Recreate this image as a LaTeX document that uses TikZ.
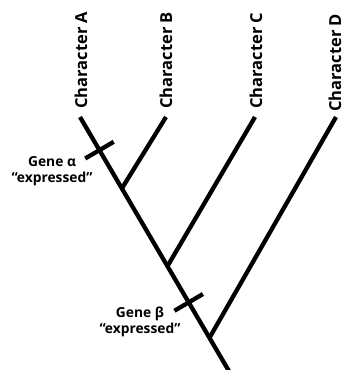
\documentclass[tikz,border=0pt]{standalone}
\usepackage{fontspec}
\setmainfont{Open Sans}
\usetikzlibrary{calc}
\begin{document}
\begin{tikzpicture}[x=1pt,y=-1pt,
  branch/.style={line width=4.3pt},
  charlabel/.style={rotate=90,anchor=west,inner sep=0pt,font=\fontsize{16.5}{20}\selectfont\bfseries},
  genelabel/.style={align=center,inner sep=0pt,font=\fontsize{13.8}{16}\selectfont\bfseries}]
  \useasboundingbox (0,0) rectangle (344,370);
  \begin{scope}
    \clip (0,0) rectangle (344,370);
    % tips of the four lineages and the root
    \coordinate (A) at (80,117);
    \coordinate (B) at (166,117);
    \coordinate (C) at (255,117);
    \coordinate (D) at (336,117);
    \coordinate (R) at (229.5,372);
    % branching points on the main stem
    \coordinate (jB) at ($(A)!0.28!(R)$);
    \coordinate (jC) at ($(A)!0.585!(R)$);
    \coordinate (jD) at ($(A)!0.866!(R)$);
    % positions of the gene marks
    \coordinate (ga) at ($(A)!0.13!(R)$);
    \coordinate (gb) at ($(A)!0.727!(R)$);
    \draw[branch] (A) -- (R);
    \draw[branch] (B) -- (jB);
    \draw[branch] (C) -- (jC);
    \draw[branch] (D) -- (jD);
    \draw[branch] ($(ga)!16.5pt!90:(R)$) -- ($(ga)!16.5pt!-90:(R)$);
    \draw[branch] ($(gb)!16.5pt!90:(R)$) -- ($(gb)!16.5pt!-90:(R)$);
  \end{scope}
  % lineage names
  \node[charlabel] (tA) at (81,109) {Character A};
  \node[charlabel] (tB) at (166,109) {Character B};
  \node[charlabel] (tC) at (256,109) {Character C};
  \node[charlabel] (tD) at (335,112) {Character D};
  % gene labels
  \node[genelabel] (la) at (52,171) {Gene α\\“expressed”};
  \node[genelabel] (lb) at (140,322) {Gene β\\“expressed”};
\end{tikzpicture}
\end{document}
